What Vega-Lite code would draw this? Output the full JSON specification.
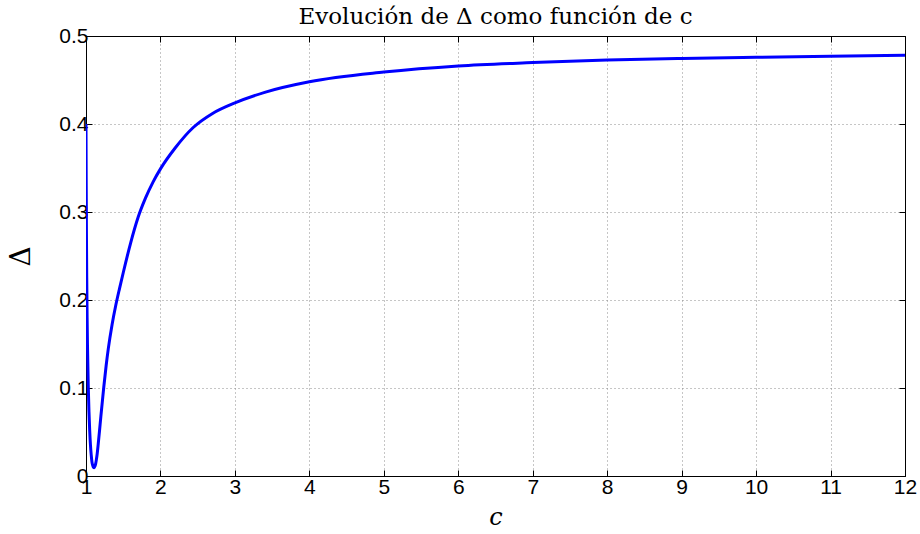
{
  "$schema": "https://vega.github.io/schema/vega-lite/v6.json",
  "width": 819,
  "height": 440,
  "autosize": "none",
  "padding": {"left": 86, "top": 36, "right": 15, "bottom": 58},
  "background": "white",
  "title": {"text": "Evolución de Δ como función de c", "font": "DejaVu Serif", "fontSize": 23, "fontWeight": "normal", "color": "black", "offset": 6, "dy": 10},
  "config": {
    "view": {"stroke": "black", "strokeWidth": 1},
    "axis": {
      "domainColor": "black", "tickColor": "black", "tickSize": -6, "tickWidth": 1,
      "labelFont": "Liberation Sans", "labelFontSize": 21, "labelColor": "black",
      "gridColor": "#8c8c8c", "gridDash": [1, 3], "gridWidth": 1,
      "titleFont": "DejaVu Serif", "titleFontWeight": "normal", "titleColor": "black"
    }
  },
  "data": {"values": [
    {"c": 1.000, "d": 0.400}, {"c": 1.003, "d": 0.330}, {"c": 1.006, "d": 0.275},
    {"c": 1.010, "d": 0.225}, {"c": 1.015, "d": 0.180}, {"c": 1.020, "d": 0.148},
    {"c": 1.030, "d": 0.103}, {"c": 1.040, "d": 0.073}, {"c": 1.050, "d": 0.051},
    {"c": 1.060, "d": 0.035}, {"c": 1.070, "d": 0.024}, {"c": 1.080, "d": 0.016},
    {"c": 1.090, "d": 0.012}, {"c": 1.100, "d": 0.010}, {"c": 1.110, "d": 0.0095},
    {"c": 1.120, "d": 0.011}, {"c": 1.130, "d": 0.014}, {"c": 1.140, "d": 0.019},
    {"c": 1.150, "d": 0.025}, {"c": 1.165, "d": 0.037}, {"c": 1.180, "d": 0.050},
    {"c": 1.200, "d": 0.068}, {"c": 1.220, "d": 0.085}, {"c": 1.240, "d": 0.102},
    {"c": 1.270, "d": 0.125}, {"c": 1.300, "d": 0.145}, {"c": 1.350, "d": 0.172},
    {"c": 1.400, "d": 0.194}, {"c": 1.450, "d": 0.213}, {"c": 1.500, "d": 0.231},
    {"c": 1.600, "d": 0.265}, {"c": 1.700, "d": 0.294}, {"c": 1.800, "d": 0.316},
    {"c": 1.900, "d": 0.334}, {"c": 2.000, "d": 0.349}, {"c": 2.200, "d": 0.373},
    {"c": 2.440, "d": 0.396}, {"c": 2.700, "d": 0.412}, {"c": 3.000, "d": 0.424},
    {"c": 3.400, "d": 0.436}, {"c": 4.000, "d": 0.448}, {"c": 5.000, "d": 0.459},
    {"c": 6.000, "d": 0.466}, {"c": 7.000, "d": 0.4698}, {"c": 8.000, "d": 0.4727},
    {"c": 9.000, "d": 0.4745}, {"c": 10.000, "d": 0.4758}, {"c": 11.000, "d": 0.477},
    {"c": 12.000, "d": 0.478}
  ]},
  "layer": [
    {
      "mark": {"type": "line", "color": "#0000ff", "strokeWidth": 3, "interpolate": "monotone", "clip": true},
      "encoding": {
        "x": {"field": "c", "type": "quantitative", "scale": {"domain": [1, 12], "nice": false, "zero": false},
          "axis": {"values": [1,2,3,4,5,6,7,8,9,10,11,12], "title": "c", "titleFontStyle": "italic", "titleFontSize": 24, "titlePadding": 8, "labelPadding": 6, "labelFlush": false}},
        "y": {"field": "d", "type": "quantitative", "scale": {"domain": [0, 0.5], "nice": false},
          "axis": {"values": [0, 0.1, 0.2, 0.3, 0.4, 0.5], "format": "~g", "title": "Δ", "titleFontSize": 28, "titlePadding": 23, "labelPadding": 4, "labelFlush": false}}
      }
    },
    {
      "mark": {"type": "line", "opacity": 0, "clip": true},
      "encoding": {
        "x": {"field": "c", "type": "quantitative", "scale": {"domain": [1, 12], "nice": false, "zero": false},
          "axis": {"orient": "top", "values": [1,2,3,4,5,6,7,8,9,10,11,12], "labels": false, "grid": false, "title": null}},
        "y": {"field": "d", "type": "quantitative", "scale": {"domain": [0, 0.5], "nice": false},
          "axis": {"orient": "right", "values": [0, 0.1, 0.2, 0.3, 0.4, 0.5], "labels": false, "grid": false, "title": null}}
      }
    }
  ],
  "resolve": {"axis": {"x": "independent", "y": "independent"}}
}
